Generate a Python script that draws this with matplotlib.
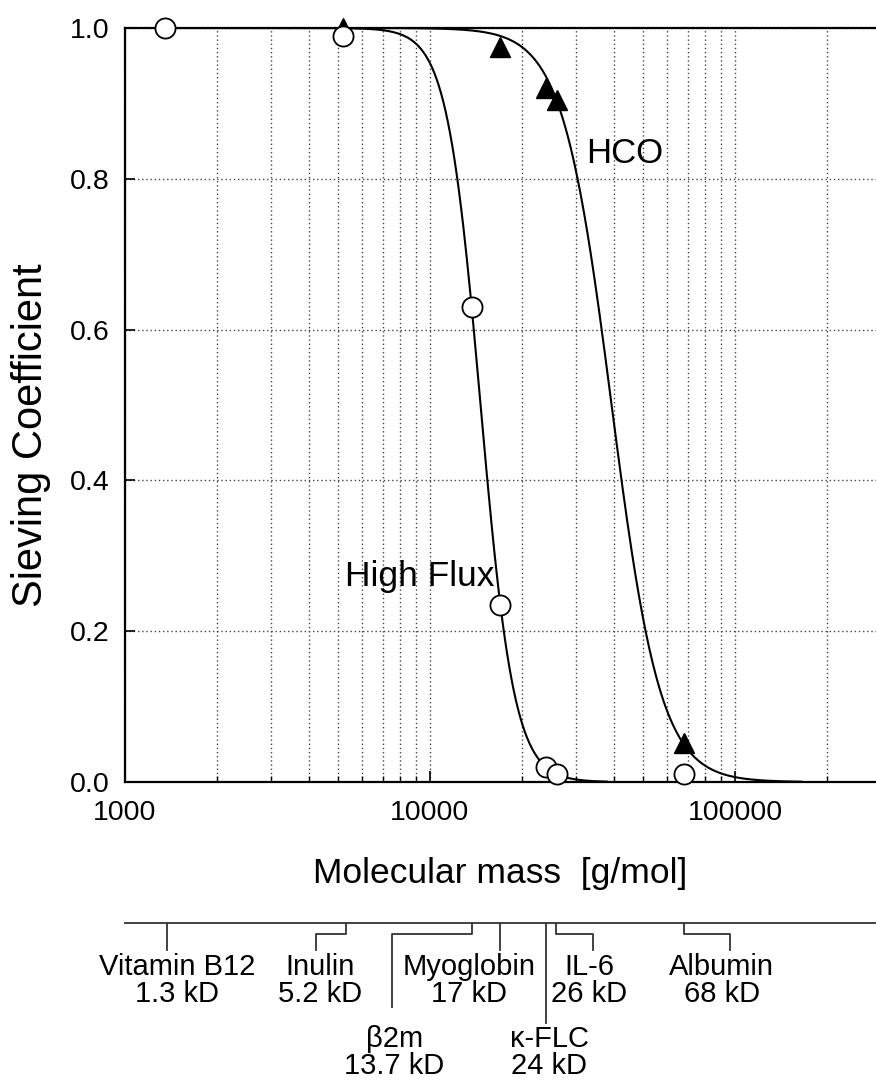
import numpy as np
import matplotlib
matplotlib.use("Agg")
import matplotlib.pyplot as plt
from matplotlib.ticker import LogLocator, FixedLocator, NullFormatter

plt.rcParams['font.family'] = ['Liberation Sans', 'DejaVu Sans']

# measured points (molecular mass in g/mol, sieving coefficient)
hf_mass = [1355, 5200, 13700, 17000, 24000, 26000, 68000]
hf_sc = [1.0, 0.99, 0.63, 0.235, 0.02, 0.01, 0.01]
hco_mass = [5200, 17000, 24000, 26000, 68000]
hco_sc = [1.0, 0.975, 0.92, 0.905, 0.052]

# sigmoid fits: (mass at 0.5, steepness, curve range)
hf_fit = (14650, 7.9, 1300, 38000)
hco_fit = (39400, 5.4, 5000, 165000)

# marker substances under the axis
names = ["Vitamin B12\n1.3 kD", "Inulin\n5.2 kD", "\u03b22m\n13.7 kD", "Myoglobin\n17 kD",
         "\u03ba-FLC\n24 kD", "IL-6\n26 kD", "Albumin\n68 kD"]
sub_mass = [1372, 5295, 13770, 17020, 24030, 25960, 68080]
elbow_mass = [None, 4244, 7480, None, None, 34270, 96400]
text_mass = [1480, 4350, 7635, 13460, 24600, 33230, 90400]
low_row = [False, False, True, False, True, False, False]


def sieving(m, fit):
    x50, n = fit[0], fit[1]
    return 1.0 / (1.0 + (m / x50) ** n)


fig = plt.figure(figsize=(8.76, 10.8), dpi=100)
L, R = 125 / 876, 1.0
ax = fig.add_axes([L, 1 - 782 / 1080, R - L, (782 - 28) / 1080])

ax.set_xscale('log')
ax.set_xlim(1000, 290000)
ax.set_ylim(0, 1.0)

# fitted curves
for fit in (hf_fit, hco_fit):
    m = np.logspace(np.log10(fit[2]), np.log10(fit[3]), 400)
    ax.plot(m, sieving(m, fit), color='black', lw=1.5, zorder=3)

ax.plot(hco_mass, hco_sc, linestyle='none', marker='^', ms=14, color='black',
        zorder=4, clip_on=False)
ax.plot(hf_mass, hf_sc, linestyle='none', marker='o', ms=14.5, mfc='white', mec='black',
        mew=1.3, zorder=5, clip_on=False)

ax.text(5250, 0.272, 'High Flux', fontsize=25.5, ha='left', va='center')
ax.text(32500, 0.834, 'HCO', fontsize=25, ha='left', va='center')

# axes styling
ax.spines['right'].set_visible(False)
for s in ('left', 'bottom', 'top'):
    ax.spines[s].set_linewidth(1.6)
ax.xaxis.set_major_locator(FixedLocator([1000, 10000, 100000]))
ax.xaxis.set_major_formatter(plt.FuncFormatter(lambda v, p: '%d' % v))
ax.xaxis.set_minor_locator(LogLocator(base=10, subs=np.arange(2, 10)))
ax.xaxis.set_minor_formatter(NullFormatter())
ax.set_yticks([0, 0.2, 0.4, 0.6, 0.8, 1.0])
ax.set_yticklabels(['0.0', '0.2', '0.4', '0.6', '0.8', '1.0'])
ax.tick_params(axis='x', which='major', direction='in', length=8, width=1.2,
               labelsize=20.5, pad=13, top=False)
ax.tick_params(axis='x', which='minor', direction='in', length=4.5, width=1.0, top=False)
ax.tick_params(axis='y', direction='in', length=7, width=1.2, labelsize=20.5, pad=11,
               right=False)
ax.grid(True, which='both', axis='x', color='#444444', linestyle=(0, (1, 2)), lw=1.0)
ax.grid(True, which='major', axis='y', color='#444444', linestyle=(0, (1, 2)), lw=1.0)

ax.set_xlabel('Molecular mass  [g/mol]', fontsize=25.5, labelpad=22)
ax.set_ylabel('Sieving Coefficient', fontsize=30)
ax.yaxis.set_label_coords(-0.099, 0.46)

# substance scale below
ax2 = fig.add_axes([L, 0, R - L, (1080 - 923) / 1080])
ax2.set_xscale('log')
ax2.set_xlim(ax.get_xlim())
ax2.set_ylim(157, 0)
ax2.axis('off')
ax2.plot([1000, 290000], [0, 0], color='#333333', lw=1.3, clip_on=False)
for i in range(len(names)):
    if elbow_mass[i] is None:
        bottom = 100 if low_row[i] else 27
        ax2.plot([sub_mass[i], sub_mass[i]], [0, bottom], color='#333333', lw=1.3)
    else:
        bottom = 84 if low_row[i] else 27
        ax2.plot([sub_mass[i], sub_mass[i], elbow_mass[i], elbow_mass[i]],
                 [0, 11, 11, bottom], color='#333333', lw=1.3)
    ty = 102 if low_row[i] else 30
    ax2.text(text_mass[i], ty, names[i], fontsize=21, ha='center', va='top',
             linespacing=0.95, multialignment='center')

fig.savefig('out.png', dpi=100)
